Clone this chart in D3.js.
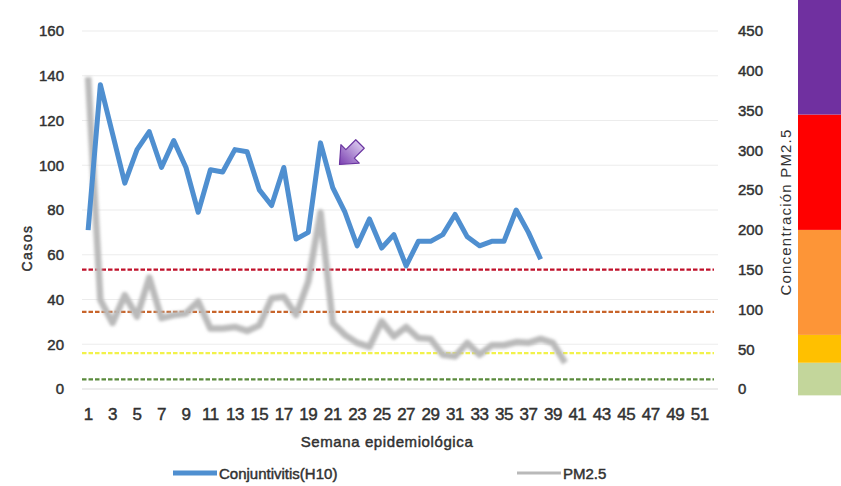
<!DOCTYPE html>
<html>
<head>
<meta charset="utf-8">
<script src="https://cdn.jsdelivr.net/npm/d3@7/dist/d3.min.js"></script>
<style>
  html, body { margin: 0; padding: 0; background: #ffffff; }
  svg { display: block; }
  text { font-family: "Liberation Sans", Arial, sans-serif; fill: #333; }
</style>
</head>
<body>
<svg id="chart" width="841" height="486"></svg>
<script>
// Epidemiological weeks shown on the x axis
const weeks = d3.range(1, 53);
const weekTicks = weeks.filter(w => w % 2 === 1);

// Weekly conjunctivitis cases (H10), weeks 1–38
const casos = [71, 136, 114, 92, 107, 115, 99, 111, 99, 79, 98, 97, 107, 106, 89, 82, 99, 67, 70, 110,
               90, 79, 64, 76, 63, 69, 55, 66, 66, 69, 78, 68, 64, 66, 66, 80, 70, 58];

// Weekly PM2.5 concentration, weeks 1–40
const pm25 = [392, 112, 83, 118, 91, 140, 89, 93, 95, 110, 76, 76, 78, 73, 80, 114, 116, 93, 135, 222,
              83, 68, 58, 53, 85, 66, 78, 64, 63, 43, 41, 58, 43, 55, 55, 59, 58, 63, 58, 33];

// Axis ticks
const casosTicks = [0, 20, 40, 60, 80, 100, 120, 140, 160];
const pmTicks = [0, 50, 100, 150, 200, 250, 300, 350, 400, 450];

// Reference levels for PM2.5 (dashed lines)
const pmLevels = [150, 97, 45, 12];
const pmLevelColors = ["#c0102a", "#c8642a", "#f2f24a", "#5a8a3c"];

// Air-quality colour bands beside the right axis (PM2.5 units)
const bandEdges = [-8, 33, 68, 200, 345, 490];
const bandColors = ["#c3d69b", "#ffc000", "#fd9537", "#ff0000", "#7030a0"];

const svg = d3.select("#chart");
const plotLeft = 82, plotRight = 718, plotTop = 31, plotBottom = 389;

const x = d3.scaleBand().domain(weeks).range([plotLeft, plotRight]);
const xc = w => x(w) + x.bandwidth() / 2;
const yC = d3.scaleLinear().domain([0, 160]).range([plotBottom, plotTop]);
const yP = d3.scaleLinear().domain([0, 450]).range([plotBottom, plotTop]);

const defs = svg.append("defs");
defs.append("filter").attr("id", "softGray").attr("x", "-5%").attr("y", "-5%").attr("width", "110%").attr("height", "110%")
  .append("feGaussianBlur").attr("stdDeviation", 1.4);
defs.append("filter").attr("id", "softBlue").attr("x", "-5%").attr("y", "-5%").attr("width", "110%").attr("height", "110%")
  .append("feGaussianBlur").attr("stdDeviation", 0.6);
const grad = defs.append("linearGradient").attr("id", "arrowFill")
  .attr("x1", "0%").attr("y1", "0%").attr("x2", "100%").attr("y2", "0%");
grad.append("stop").attr("offset", "0%").attr("stop-color", "#d6c4ec");
grad.append("stop").attr("offset", "100%").attr("stop-color", "#7a3fb0");

// Colour bands
svg.append("g").selectAll("rect").data(bandColors).join("rect")
  .attr("x", 798).attr("width", 43)
  .attr("y", (c, i) => yP(bandEdges[i + 1]))
  .attr("height", (c, i) => yP(bandEdges[i]) - yP(bandEdges[i + 1]))
  .attr("fill", c => c);

// Horizontal gridlines
svg.append("g").selectAll("line").data(casosTicks).join("line")
  .attr("x1", plotLeft).attr("x2", plotRight)
  .attr("y1", d => yC(d)).attr("y2", d => yC(d))
  .attr("stroke", d => d === 0 ? "#d9d9d9" : "#ececec").attr("stroke-width", 1.2);

// Heavier text weight for the labels
const heavy = sel => sel.attr("fill", "#2e2e2e").attr("stroke", "#2e2e2e").attr("stroke-width", 0.45);

// Left axis
const axL = svg.append("g").attr("transform", `translate(${plotLeft},0)`)
  .call(d3.axisLeft(yC).tickValues(casosTicks).tickSize(0).tickPadding(18));
axL.select(".domain").remove();
axL.selectAll("text").style("font-size", "15px").style("font-family", "'Liberation Sans', Arial, sans-serif").call(heavy);

// Right axis
const axR = svg.append("g").attr("transform", `translate(${plotRight},0)`)
  .call(d3.axisRight(yP).tickValues(pmTicks).tickSize(0).tickPadding(20));
axR.select(".domain").remove();
axR.selectAll("text").style("font-size", "15px").style("font-family", "'Liberation Sans', Arial, sans-serif").call(heavy);

// Bottom axis
const axB = svg.append("g").attr("transform", `translate(0,${plotBottom})`)
  .call(d3.axisBottom(x).tickValues(weekTicks).tickSize(0).tickPadding(19));
axB.select(".domain").remove();
axB.selectAll("text").style("font-size", "17px").style("font-family", "'Liberation Sans Narrow', 'Liberation Sans', Arial, sans-serif")
  .attr("letter-spacing", "-0.5").call(heavy);

// Reference dashed lines
svg.append("g").selectAll("line").data(pmLevels).join("line")
  .attr("x1", plotLeft).attr("x2", plotRight - 4)
  .attr("y1", d => yP(d)).attr("y2", d => yP(d))
  .attr("stroke", (d, i) => pmLevelColors[i]).attr("stroke-width", 2.2)
  .attr("stroke-dasharray", "4.5,2");

// PM2.5 line
svg.append("path").datum(pm25)
  .attr("fill", "none").attr("stroke", "#bababa").attr("stroke-width", 6.5)
  .attr("stroke-linejoin", "round").attr("filter", "url(#softGray)")
  .attr("d", d3.line().x((d, i) => xc(weeks[i])).y(d => yP(d)));

// Conjunctivitis line
svg.append("path").datum(casos)
  .attr("fill", "none").attr("stroke", "#4f8fd0").attr("stroke-width", 5)
  .attr("stroke-linejoin", "round").attr("filter", "url(#softBlue)")
  .attr("d", d3.line().x((d, i) => xc(weeks[i])).y(d => yC(d)));

// Block arrow pointing at the week-20 peak
const arrowShape = [[0, -6], [14, -6], [14, -13], [29, 0], [14, 13], [14, 6], [0, 6]];
svg.append("polygon")
  .attr("points", arrowShape.map(p => p.join(",")).join(" "))
  .attr("transform", "translate(360,144) rotate(135)")
  .attr("fill", "url(#arrowFill)").attr("stroke", "#6a35a0").attr("stroke-width", 1.2)
  .attr("stroke-linejoin", "round");

// Axis titles
svg.append("text").attr("transform", "translate(32,248) rotate(-90)")
  .attr("text-anchor", "middle").style("font-size", "14px").attr("letter-spacing", "1.5")
  .call(heavy).text("Casos");
svg.append("text").attr("transform", "translate(791,212) rotate(-90)")
  .attr("text-anchor", "middle").style("font-size", "15px").attr("letter-spacing", "1.2")
  .attr("fill", "#505050").text("Concentración PM2.5");
svg.append("text").attr("x", 387).attr("y", 447)
  .attr("text-anchor", "middle").style("font-size", "15px").attr("letter-spacing", "0.6")
  .call(heavy).text("Semana epidemiológica");

// Legend
const legend = [
  { name: "Conjuntivitis(H10)", color: "#4f8fd0", x: 173, w: 5 },
  { name: "PM2.5", color: "#b9b9b9", x: 517, w: 3 }
];
const lg = svg.append("g").selectAll("g").data(legend).join("g")
  .attr("transform", d => `translate(${d.x},473)`);
lg.append("line").attr("x1", 0).attr("x2", 44).attr("stroke", d => d.color).attr("stroke-width", d => d.w);
lg.append("text").attr("x", 46).attr("y", 5.5).style("font-size", "15px").call(heavy).text(d => d.name);
</script>
</body>
</html>
